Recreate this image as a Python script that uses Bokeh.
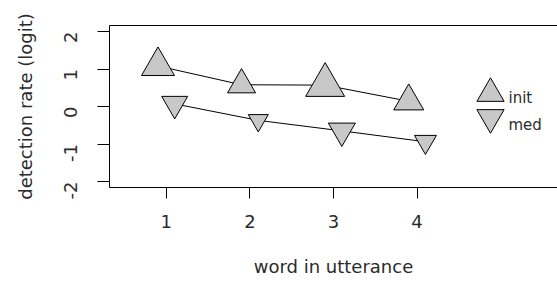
import math
from bokeh.plotting import figure
from bokeh.models import (LinearAxis, FixedTicker, Range1d, Legend, LegendItem,
                          ColumnDataSource, Label)
from bokeh.transform import dodge
from bokeh.embed import file_html
from bokeh.resources import INLINE

# ---- data ----
words = [1, 2, 3, 4]
init_rate = [1.08, 0.58, 0.57, 0.14]
med_rate = [0.07, -0.37, -0.65, -0.94]
init_size = [33, 28, 39, 30]
med_size = [26, 20, 27, 22]
x_ticks = [1, 2, 3, 4]
y_ticks = [-2, -1, 0, 1, 2]
y_tick_labels = ["-2", "-1", "0", "1", "2"]
series_labels = ["init", "med"]

FONT = "DejaVu Sans"
TXT = "#2b2b2b"
FILL = "#c8c8c8"

init_src = ColumnDataSource(dict(x=words, y=init_rate, s=init_size))
med_src = ColumnDataSource(dict(x=words, y=med_rate, s=med_size))

p = figure(width=557, height=281,
           x_range=Range1d(0.32, 5.68), y_range=Range1d(-2.16, 2.16),
           x_axis_type=None, y_axis_type=None,
           output_backend="svg", toolbar_location=None,
           min_border_left=109, min_border_top=25,
           min_border_bottom=94, min_border_right=0)
p.outline_line_color = None
p.background_fill_color = "white"
p.border_fill_color = "white"


def style_axis(ax):
    ax.axis_line_color = "black"
    ax.axis_line_width = 1
    ax.major_tick_line_color = "black"
    ax.major_tick_in = 0
    ax.minor_tick_in = 0
    ax.minor_tick_out = 0
    ax.major_label_text_font = FONT
    ax.major_label_text_font_size = "18px"
    ax.major_label_text_color = TXT
    ax.axis_label_text_font = FONT
    ax.axis_label_text_font_size = "18px"
    ax.axis_label_text_font_style = "normal"
    ax.axis_label_text_color = TXT


xax = LinearAxis(ticker=FixedTicker(ticks=x_ticks), axis_label="word in utterance")
style_axis(xax)
xax.major_tick_out = 11
xax.major_label_standoff = 16
xax.axis_label_standoff = 25
p.add_layout(xax, "below")

yax = LinearAxis(ticker=FixedTicker(ticks=y_ticks), axis_label="detection rate (logit)")
style_axis(yax)
yax.major_tick_out = 12
yax.major_label_orientation = math.pi / 2
yax.major_label_overrides = {t: s for t, s in zip(y_ticks, y_tick_labels)}
yax.major_label_standoff = 27
yax.axis_label_standoff = 19
p.add_layout(yax, "left")

top = LinearAxis(ticker=FixedTicker(ticks=[]))
style_axis(top)
top.major_tick_out = 0
p.add_layout(top, "above")

# lines
p.line(dodge("x", -0.1, range=p.x_range), "y", source=init_src,
       line_color="black", line_width=1)
p.line(dodge("x", 0.1, range=p.x_range), "y", source=med_src,
       line_color="black", line_width=1)

# markers
r_init = p.scatter(dodge("x", -0.1, range=p.x_range), "y", size="s", source=init_src,
                   marker="triangle", fill_color=FILL, line_color="black", line_width=1)
r_med = p.scatter(dodge("x", 0.1, range=p.x_range), "y", size="s", source=med_src,
                  marker="inverted_triangle", fill_color=FILL, line_color="black",
                  line_width=1)

# legend: glyph boxes (marker size = 0.4 * box) with the texts beside them
for r, loc in ((r_init, (347, 60)), (r_med, (347, 36))):
    lg = Legend(items=[LegendItem(label="", renderers=[r])],
                location=loc, glyph_width=68, glyph_height=68,
                padding=0, margin=0, spacing=0, label_standoff=0,
                border_line_color=None, background_fill_alpha=0,
                label_text_font_size="1px")
    p.add_layout(lg, "center")

for txt, ly in ((series_labels[0], 90), (series_labels[1], 63)):
    p.add_layout(Label(x=399, y=ly, x_units="screen", y_units="screen", text=txt,
                       text_font=FONT, text_font_size="15px", text_color=TXT,
                       text_baseline="alphabetic", text_align="left"))

open("out.html", "w").write(file_html(p, INLINE))
